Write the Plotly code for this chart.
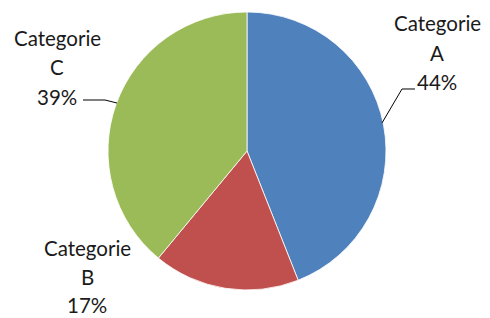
import plotly.graph_objects as go

categories = ["Categorie A", "Categorie B", "Categorie C"]
letters = ["A", "B", "C"]
values = [44, 17, 39]
colors = ["#4F81BD", "#C0504D", "#9BBB59"]

W, H = 490, 318
FONT = "Lato"
FS = 20.5

fig = go.Figure(go.Pie(
    labels=categories,
    values=values,
    sort=False,
    direction="clockwise",
    rotation=0,
    marker=dict(colors=colors, line=dict(color="white", width=0.8)),
    textinfo="none",
    hoverinfo="skip",
    showlegend=False,
    domain=dict(x=[108 / W, 386 / W], y=[1 - 290 / H, 1 - 12 / H]),
))

total = sum(values)
pct = [f"{round(v * 100 / total)}%" for v in values]

# label placement (pixel centers): x, and y of each line
label_pos = {
    0: (437, [23, 53, 82]),
    1: (87, [248, 277, 305]),
    2: (57, [38, 67, 97]),
}
annotations = []
for i, (cx, ys) in label_pos.items():
    lines = ["Categorie", letters[i], pct[i]]
    for txt, yy in zip(lines, ys):
        annotations.append(dict(
            x=cx / W, y=1 - yy / H, xref="paper", yref="paper",
            text=txt, showarrow=False, xanchor="center", yanchor="middle",
            font=dict(family=FONT, size=FS, color="#1a1a1a"),
        ))

def px(x, y):
    return f"{x / W:.5f},{1 - y / H:.5f}"

shapes = [
    dict(type="path", xref="paper", yref="paper",
         path=f"M {px(382, 123)} L {px(402, 89)} L {px(415, 89)}",
         line=dict(color="#000000", width=1)),
    dict(type="path", xref="paper", yref="paper",
         path=f"M {px(83, 100)} L {px(105, 100)} L {px(117, 103)}",
         line=dict(color="#000000", width=1)),
]

fig.update_layout(
    width=W, height=H,
    margin=dict(l=0, r=0, t=0, b=0),
    paper_bgcolor="white", plot_bgcolor="white",
    annotations=annotations, shapes=shapes,
)
fig.write_html("out.html",
               config={"displayModeBar": False, "staticPlot": True},
               post_script="document.body.style.margin='0';document.body.style.overflow='hidden';")
